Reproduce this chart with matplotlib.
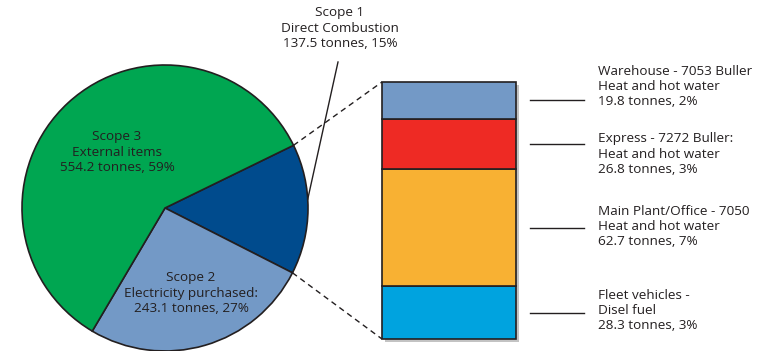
import matplotlib
matplotlib.use("Agg")
import matplotlib.pyplot as plt
import matplotlib.patheffects as pe
import numpy as np

# ---- data ----
scope_labels = ["Scope 1\nDirect Combustion\n137.5 tonnes, 15%",
                "Scope 2\nElectricity purchased:\n243.1 tonnes, 27%",
                "Scope 3\nExternal items\n554.2 tonnes, 59%"]
scope_values = [137.5, 243.1, 554.2]
scope_colors = ["#004B8D", "#7399C6", "#00A651"]

# Scope 1 breakdown, bottom to top
sub_labels = ["Fleet vehicles -\nDisel fuel\n28.3 tonnes, 3%",
              "Main Plant/Office - 7050\nHeat and hot water\n62.7 tonnes, 7%",
              "Express - 7272 Buller:\nHeat and hot water\n26.8 tonnes, 3%",
              "Warehouse - 7053 Buller\nHeat and hot water\n19.8 tonnes, 2%"]
sub_values = [28.3, 62.7, 26.8, 19.8]
sub_colors = ["#00A3DF", "#F8B133", "#EE2A24", "#7399C6"]

# ---- layout (pixels) ----
W, H = 774, 351
cx, cy, R = 165, 208, 143          # pie center (from top) and radius
bx0, bx1, by0, by1 = 382, 516, 82, 339   # bar box (top/bottom from top)
CLIPX = 752
TXT = "#231F20"
FONT = "Open Sans"
FS = 9.7

fig = plt.figure(figsize=(W / 100, H / 100), dpi=100)

# ---- pie ----
ax_pie = fig.add_axes([(cx - R) / W, (H - cy - R) / H, 2 * R / W, 2 * R / H])
wedges, _ = ax_pie.pie(scope_values, colors=scope_colors, startangle=26,
                       counterclock=False, radius=1,
                       wedgeprops=dict(edgecolor=TXT, linewidth=1.2))
for w in wedges:
    w.set_clip_on(False)
ax_pie.set_xlim(-1, 1)
ax_pie.set_ylim(-1, 1)
ax_pie.axis("off")

# ---- stacked bar ----
ax_bar = fig.add_axes([bx0 / W, (H - by1) / H, (bx1 - bx0) / W, (by1 - by0) / H])
total_sub = sum(sub_values)
ax_bar.bar(0, total_sub, width=1, color="white", zorder=0, clip_on=False,
           path_effects=[pe.SimplePatchShadow(offset=(2, -2), shadow_rgbFace="#888888", alpha=0.5),
                         pe.Normal()])
bottoms = np.concatenate([[0], np.cumsum(sub_values)[:-1]])
ax_bar.bar(0, sub_values, bottom=bottoms, width=1, color=sub_colors,
           edgecolor=TXT, linewidth=1.2, clip_on=False, zorder=2)
ax_bar.set_xlim(-0.5, 0.5)
ax_bar.set_ylim(0, total_sub)
ax_bar.axis("off")

# ---- overlay for connectors and labels ----
ax = fig.add_axes([0, 0, CLIPX / W, 1], zorder=5)
ax.set_xlim(0, CLIPX)
ax.set_ylim(H, 0)
ax.axis("off")
ax.patch.set_visible(False)

def on_circle(deg):
    a = np.deg2rad(deg)
    return cx + R * np.cos(a), cy - R * np.sin(a)

w1 = wedges[0]
p_top = on_circle(w1.theta2)
p_bot = on_circle(w1.theta1)
ax.plot([p_top[0], bx0], [p_top[1], by0], color=TXT, lw=1, ls=(0, (4, 3)))
ax.plot([p_bot[0], bx0], [p_bot[1], by1], color=TXT, lw=1, ls=(0, (4, 3)))

# Scope 1 callout
pm = on_circle((w1.theta1 + w1.theta2) / 2 + 4)
ax.plot([pm[0], 338], [pm[1], 62], color=TXT, lw=1)
kw = dict(family=FONT, fontsize=FS, color=TXT, linespacing=1.22)
ax.text(340, 28, scope_labels[0], ha="center", va="center", **kw)
ax.text(191, 293, scope_labels[1], ha="center", va="center", **kw)
ax.text(117, 152, scope_labels[2], ha="center", va="center", **kw)

# bar leader lines and labels
label_shift = [-2, -1, 10, -14]
for v, b, lab, sh in zip(sub_values, bottoms, sub_labels, label_shift):
    ymid = by1 - (b + v / 2) / total_sub * (by1 - by0)
    ax.plot([530, 584], [ymid, ymid], color=TXT, lw=1)
    ax.text(598, ymid + sh, lab, ha="left", va="center", clip_on=True, **kw)

fig.savefig("out.png", dpi=100)
